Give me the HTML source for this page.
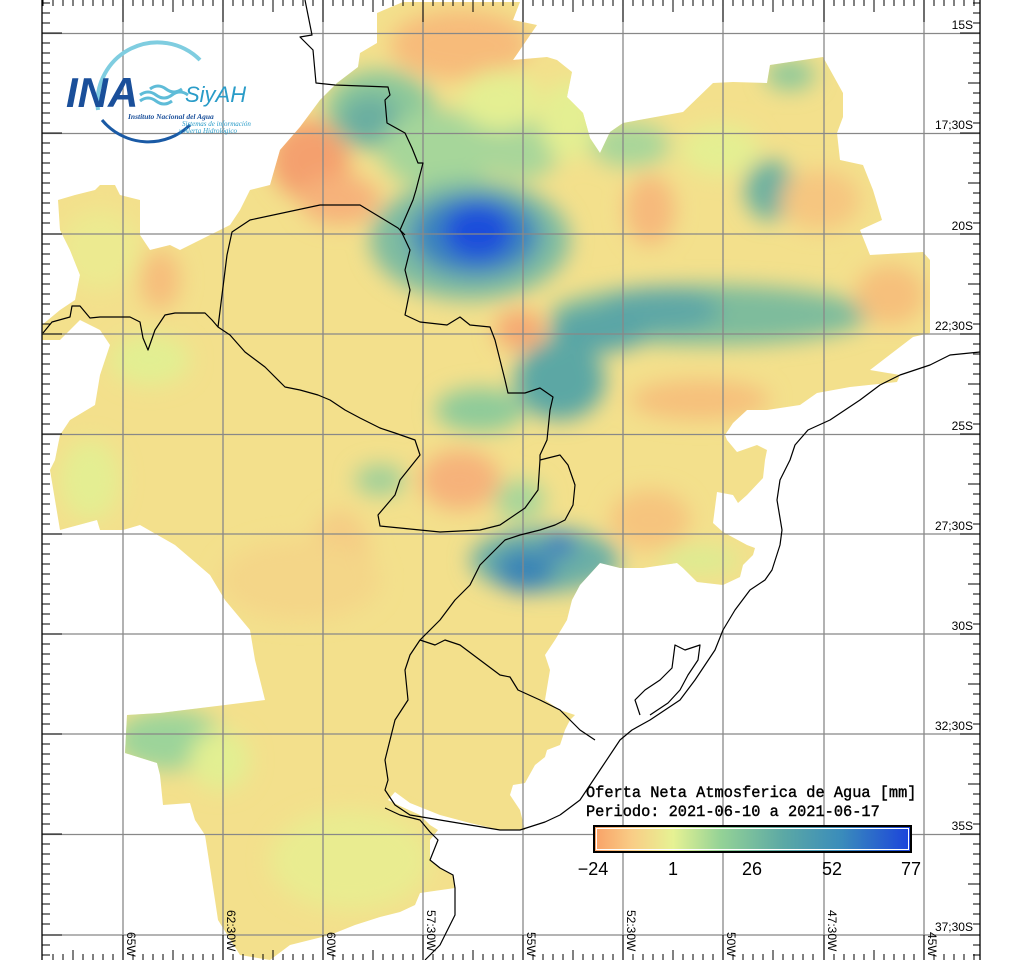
<!DOCTYPE html>
<html><head><meta charset="utf-8"><style>
html,body{margin:0;padding:0;background:#fff;}
svg{display:block;}
</style></head><body>
<svg width="1024" height="960" viewBox="0 0 1024 960" xmlns="http://www.w3.org/2000/svg">
<defs>
<clipPath id="basin"><polygon points="403,2 520,2 513,20 537,25 513,60 547,57 557,60 572,72 567,97 583,113 590,138 600,153 610,132 623,123 683,112 713,83 733,82 767,83 770,65 823,57 843,93 843,117 837,133 840,160 863,165 873,190 882,220 860,230 870,255 923,252 930,260 930,333 913,337 870,370 900,375 897,382 850,387 817,393 800,405 767,410 747,410 733,423 725,435 727,440 737,452 757,445 767,450 765,460 763,478 747,495 738,503 733,495 717,492 713,523 723,532 747,545 755,548 753,555 743,565 740,577 723,585 697,582 683,568 677,563 643,568 620,568 600,563 580,585 572,600 567,620 555,640 545,655 550,670 545,700 560,710 575,715 570,720 565,730 560,745 547,750 545,757 535,765 525,783 513,785 510,795 520,810 525,830 500,830 470,823 440,815 410,803 395,792 388,800 400,806 420,815 430,825 438,830 430,840 430,860 440,868 453,875 455,888 420,893 415,905 400,912 380,917 355,925 330,935 290,945 270,960 240,955 218,920 215,900 205,835 195,820 190,803 163,805 160,775 157,763 125,753 127,715 160,713 225,705 265,700 255,660 250,630 225,600 210,575 175,545 140,525 123,530 100,530 97,520 60,530 55,500 50,470 55,460 60,435 70,420 95,405 100,375 110,345 100,330 80,320 60,340 42,340 42,325 60,310 75,300 80,275 70,250 60,230 58,200 75,195 95,190 100,185 115,185 120,195 140,200 140,235 150,250 170,245 180,250 230,225 240,210 250,190 270,185 280,150 300,127 320,100 337,83 358,67 360,53 377,43 377,13"/></clipPath>
<filter id="bl" x="-20%" y="-20%" width="140%" height="140%"><feGaussianBlur stdDeviation="11"/></filter>
<linearGradient id="cb" x1="0" x2="1" y1="0" y2="0">
<stop offset="0" stop-color="#f9a066"/><stop offset="0.12" stop-color="#f9cd86"/><stop offset="0.25" stop-color="#e6f293"/><stop offset="0.4" stop-color="#94d296"/><stop offset="0.6" stop-color="#5ba8a5"/><stop offset="0.78" stop-color="#3a8cbb"/><stop offset="1" stop-color="#1b42dc"/>
</linearGradient>
</defs>

<g clip-path="url(#basin)">
<rect x="0" y="0" width="1024" height="960" fill="#f3e08c"/>
<g filter="url(#bl)">
<ellipse cx="460" cy="45" rx="70" ry="35" fill="#f7bb7a"/>
<ellipse cx="310" cy="160" rx="40" ry="40" fill="#f4a06e"/>
<ellipse cx="340" cy="200" rx="40" ry="25" fill="#f6b27a"/>
<ellipse cx="380" cy="110" rx="55" ry="40" fill="#8cc89a"/>
<ellipse cx="370" cy="120" rx="30" ry="25" fill="#6aaea0"/>
<ellipse cx="440" cy="150" rx="60" ry="40" fill="#a6d69a"/>
<ellipse cx="520" cy="150" rx="40" ry="30" fill="#a8d69a"/>
<ellipse cx="500" cy="100" rx="40" ry="30" fill="#e4ef92"/>
<ellipse cx="470" cy="240" rx="100" ry="60" fill="#7ebca0"/>
<ellipse cx="475" cy="235" rx="65" ry="42" fill="#3c86bb"/>
<ellipse cx="478" cy="232" rx="35" ry="28" fill="#1d4ddb"/>
<ellipse cx="570" cy="120" rx="30" ry="40" fill="#e4ef92"/>
<ellipse cx="630" cy="145" rx="40" ry="22" fill="#a8d69a"/>
<ellipse cx="720" cy="150" rx="40" ry="25" fill="#e4ef92"/>
<ellipse cx="770" cy="190" rx="25" ry="30" fill="#6bb0a0"/>
<ellipse cx="790" cy="75" rx="25" ry="15" fill="#8cc89a"/>
<ellipse cx="650" cy="210" rx="25" ry="35" fill="#f6b97c"/>
<ellipse cx="820" cy="200" rx="40" ry="30" fill="#f6c680"/>
<ellipse cx="710" cy="315" rx="160" ry="30" fill="#7ebc9c"/>
<ellipse cx="660" cy="310" rx="60" ry="22" fill="#5ea7a6"/>
<ellipse cx="600" cy="330" rx="50" ry="22" fill="#5aa5a6"/>
<ellipse cx="560" cy="380" rx="45" ry="40" fill="#5ca7a4"/>
<ellipse cx="480" cy="410" rx="45" ry="22" fill="#8ecb9a"/>
<ellipse cx="520" cy="330" rx="25" ry="20" fill="#f6a872"/>
<ellipse cx="700" cy="400" rx="70" ry="20" fill="#f6c07c"/>
<ellipse cx="890" cy="295" rx="35" ry="30" fill="#f6c07c"/>
<ellipse cx="460" cy="480" rx="40" ry="30" fill="#f6b27a"/>
<ellipse cx="380" cy="480" rx="25" ry="15" fill="#9ccf9a"/>
<ellipse cx="520" cy="500" rx="25" ry="20" fill="#a6d69a"/>
<ellipse cx="545" cy="560" rx="75" ry="32" fill="#6aafa6"/>
<ellipse cx="525" cy="570" rx="30" ry="22" fill="#3a85b6"/>
<ellipse cx="560" cy="545" rx="15" ry="10" fill="#2f70c2"/>
<ellipse cx="650" cy="520" rx="40" ry="30" fill="#f6c47e"/>
<ellipse cx="700" cy="560" rx="40" ry="14" fill="#dcec92"/>
<ellipse cx="170" cy="740" rx="55" ry="30" fill="#9cd49a"/>
<ellipse cx="220" cy="760" rx="30" ry="30" fill="#e2ef92"/>
<ellipse cx="350" cy="860" rx="80" ry="50" fill="#e9ec90"/>
<ellipse cx="90" cy="480" rx="30" ry="40" fill="#e4ee92"/>
<ellipse cx="100" cy="250" rx="40" ry="40" fill="#ecea90"/>
<ellipse cx="160" cy="280" rx="20" ry="30" fill="#f6bd7c"/>
<ellipse cx="150" cy="360" rx="40" ry="25" fill="#e2ef92"/>
<ellipse cx="340" cy="560" rx="30" ry="50" fill="#f5cc84"/>
<ellipse cx="300" cy="580" rx="80" ry="40" fill="#f4d688"/>
</g>
</g>

<g stroke="#888" stroke-width="1.3" fill="none">
<line x1="123" y1="0" x2="123" y2="960"/><line x1="223" y1="0" x2="223" y2="960"/><line x1="323" y1="0" x2="323" y2="960"/><line x1="423" y1="0" x2="423" y2="960"/><line x1="523" y1="0" x2="523" y2="960"/><line x1="623" y1="0" x2="623" y2="960"/><line x1="723" y1="0" x2="723" y2="960"/><line x1="824" y1="0" x2="824" y2="960"/><line x1="924" y1="0" x2="924" y2="960"/>
<line x1="42" y1="33.5" x2="980" y2="33.5"/><line x1="42" y1="133.5" x2="980" y2="133.5"/><line x1="42" y1="234" x2="980" y2="234"/><line x1="42" y1="334" x2="980" y2="334"/><line x1="42" y1="434.5" x2="980" y2="434.5"/><line x1="42" y1="534" x2="980" y2="534"/><line x1="42" y1="634" x2="980" y2="634"/><line x1="42" y1="734" x2="980" y2="734"/><line x1="42" y1="834.5" x2="980" y2="834.5"/><line x1="42" y1="935" x2="980" y2="935"/>
</g>

<g stroke="#000" stroke-width="1.2" fill="none" stroke-linejoin="round">
<polyline points="305,0 308,15 312,35 300,37 313,50 316,83 335,85 388,87 390,95 385,100 387,123 405,133 412,148 418,163 423,163 416,190 413,200 400,230 402,233 410,250 405,270 410,290 405,315 420,322 447,325 460,317 470,325 490,327 495,340 500,360 505,380 508,393 525,393 540,388 553,397 550,410 547,440 540,455 540,460 538,490 525,508 500,525 480,530 440,532 400,528 380,526 378,515 395,495 400,480 420,455 415,440 395,433 380,428 360,418 345,410 330,400 318,395 300,390 285,387 265,367 245,352 230,335 218,327 212,320 205,313 175,313 165,315 155,330 148,350 143,338 140,322 130,317 100,317 90,318 80,306 72,306 70,317 52,322 43,333"/>
<polyline points="218,327 227,255 232,232 250,220 320,205 360,205 398,228 405,235"/>
<polyline points="540,460 560,455 568,465 575,485 573,505 565,520 555,525 540,530 520,535 505,540 490,555 480,565 470,585 455,600 440,620 420,640 410,655 405,670 408,700 395,720 390,740 385,760 388,780 385,790 395,805 410,815 440,820 470,825 500,830 520,830 545,822 560,815"/>
<polyline points="420,640 435,645 445,640 460,645 480,660 500,675 510,677 518,690 540,700 560,710 570,720 580,730 595,740"/>
<polyline points="385,808 400,815 420,820 430,832 438,840 430,860 440,868 453,875 455,888 455,915 440,945 425,960"/>
<polyline points="560,815 580,800 600,770 620,740 632,730 650,720 665,710 680,700 695,680 705,665 715,650 723,630 735,610 750,590 765,580 772,570 780,545 782,530 777,500 780,480 790,460 795,445 808,430 830,420 860,400 880,385 900,375 930,365 950,355 980,352"/>
<polyline points="640,715 635,700 645,690 660,680 672,668 675,645 685,650 700,645 698,660 688,675 680,690 668,703 650,715"/>
</g>

<g stroke="#000" stroke-width="1.3">
<line x1="42" y1="0" x2="42" y2="960"/>
<line x1="980" y1="0" x2="980" y2="960"/>
</g>
<g stroke="#000" stroke-width="1">
<path d="M42,3h8M42,13h8M42,23h8M42,33h20M42,43h8M42,53h8M42,63h8M42,73h8M42,83h8M42,93h8M42,103h8M42,113h8M42,123h8M42,133h20M42,143h8M42,153h8M42,163h8M42,173h8M42,183h8M42,193h8M42,203h8M42,213h8M42,223h8M42,234h20M42,244h8M42,254h8M42,264h8M42,274h8M42,284h8M42,294h8M42,304h8M42,314h8M42,324h8M42,334h20M42,344h8M42,354h8M42,364h8M42,374h8M42,384h8M42,394h8M42,404h8M42,414h8M42,424h8M42,434h20M42,444h8M42,454h8M42,464h8M42,474h8M42,484h8M42,494h8M42,504h8M42,514h8M42,524h8M42,534h20M42,544h8M42,554h8M42,564h8M42,574h8M42,584h8M42,594h8M42,604h8M42,614h8M42,624h8M42,634h20M42,644h8M42,654h8M42,664h8M42,674h8M42,684h8M42,694h8M42,704h8M42,714h8M42,724h8M42,734h20M42,744h8M42,754h8M42,764h8M42,774h8M42,784h8M42,794h8M42,804h8M42,814h8M42,824h8M42,834h20M42,844h8M42,854h8M42,864h8M42,874h8M42,884h8M42,894h8M42,904h8M42,914h8M42,924h8M42,935h20M42,945h8M42,955h8"/>
<path d="M980,3h-7M980,13h-7M980,23h-7M980,33h-20M980,43h-7M980,53h-7M980,63h-7M980,73h-7M980,83h-12M980,93h-7M980,103h-7M980,113h-7M980,123h-7M980,133h-20M980,143h-7M980,153h-7M980,163h-7M980,173h-7M980,183h-12M980,193h-7M980,203h-7M980,213h-7M980,223h-7M980,234h-20M980,244h-7M980,254h-7M980,264h-7M980,274h-7M980,284h-12M980,294h-7M980,304h-7M980,314h-7M980,324h-7M980,334h-20M980,344h-7M980,354h-7M980,364h-7M980,374h-7M980,384h-12M980,394h-7M980,404h-7M980,414h-7M980,424h-7M980,434h-20M980,444h-7M980,454h-7M980,464h-7M980,474h-7M980,484h-12M980,494h-7M980,504h-7M980,514h-7M980,524h-7M980,534h-20M980,544h-7M980,554h-7M980,564h-7M980,574h-7M980,584h-12M980,594h-7M980,604h-7M980,614h-7M980,624h-7M980,634h-20M980,644h-7M980,654h-7M980,664h-7M980,674h-7M980,684h-12M980,694h-7M980,704h-7M980,714h-7M980,724h-7M980,734h-20M980,744h-7M980,754h-7M980,764h-7M980,774h-7M980,784h-12M980,794h-7M980,804h-7M980,814h-7M980,824h-7M980,834h-20M980,844h-7M980,854h-7M980,864h-7M980,874h-7M980,884h-12M980,894h-7M980,904h-7M980,914h-7M980,924h-7M980,935h-20M980,945h-7M980,955h-7"/>
<path d="M43,0v6M53,0v6M63,0v6M73,0v6M83,0v6M93,0v6M103,0v6M113,0v6M123,0v22M133,0v6M143,0v6M153,0v6M163,0v6M173,0v12M183,0v6M193,0v6M203,0v6M213,0v6M223,0v22M233,0v6M243,0v6M253,0v6M263,0v6M273,0v12M283,0v6M293,0v6M303,0v6M313,0v6M323,0v22M333,0v6M343,0v6M353,0v6M363,0v6M373,0v12M383,0v6M393,0v6M403,0v6M413,0v6M423,0v22M433,0v6M443,0v6M453,0v6M463,0v6M473,0v12M483,0v6M493,0v6M503,0v6M513,0v6M523,0v22M533,0v6M543,0v6M553,0v6M563,0v6M573,0v12M583,0v6M593,0v6M603,0v6M613,0v6M623,0v22M633,0v6M643,0v6M653,0v6M663,0v6M673,0v12M683,0v6M693,0v6M703,0v6M713,0v6M723,0v22M733,0v6M743,0v6M753,0v6M763,0v6M773,0v12M783,0v6M793,0v6M803,0v6M813,0v6M824,0v22M834,0v6M844,0v6M854,0v6M864,0v6M874,0v12M884,0v6M894,0v6M904,0v6M914,0v6M924,0v22M934,0v6M944,0v6M954,0v6M964,0v6M974,0v6"/>
<path d="M53,960v-6M63,960v-6M73,960v-10M83,960v-6M93,960v-6M103,960v-6M113,960v-6M123,960v-25M133,960v-6M143,960v-6M153,960v-6M163,960v-6M173,960v-10M183,960v-6M193,960v-6M203,960v-6M213,960v-6M223,960v-25M233,960v-6M243,960v-6M253,960v-6M263,960v-6M273,960v-10M283,960v-6M293,960v-6M303,960v-6M313,960v-6M323,960v-25M333,960v-6M343,960v-6M353,960v-6M363,960v-6M373,960v-10M383,960v-6M393,960v-6M403,960v-6M413,960v-6M423,960v-25M433,960v-6M443,960v-6M453,960v-6M463,960v-6M473,960v-10M483,960v-6M493,960v-6M503,960v-6M513,960v-6M523,960v-25M533,960v-6M543,960v-6M553,960v-6M563,960v-6M573,960v-10M583,960v-6M593,960v-6M603,960v-6M613,960v-6M623,960v-25M633,960v-6M643,960v-6M653,960v-6M663,960v-6M673,960v-10M683,960v-6M693,960v-6M703,960v-6M713,960v-6M723,960v-25M733,960v-6M743,960v-6M753,960v-6M763,960v-6M773,960v-10M783,960v-6M793,960v-6M803,960v-6M813,960v-6M824,960v-25M834,960v-6M844,960v-6M854,960v-6M864,960v-6M874,960v-10M884,960v-6M894,960v-6M904,960v-6M914,960v-6M924,960v-25M934,960v-6M944,960v-6M954,960v-6M964,960v-6M974,960v-6"/>
</g>

<g font-family="Liberation Sans, sans-serif" font-size="12" fill="#000" text-anchor="end">
<text x="973" y="29">15S</text><text x="973" y="129">17;30S</text><text x="973" y="230">20S</text><text x="973" y="330">22;30S</text><text x="973" y="430">25S</text><text x="973" y="530">27;30S</text><text x="973" y="630">30S</text><text x="973" y="730">32;30S</text><text x="973" y="830">35S</text><text x="973" y="931">37;30S</text>
</g>
<g font-family="Liberation Sans, sans-serif" font-size="12" fill="#000">
<text transform="translate(127,932) rotate(90)">65W</text>
<text transform="translate(227,910) rotate(90)">62:30W</text>
<text transform="translate(327,932) rotate(90)">60W</text>
<text transform="translate(427,910) rotate(90)">57:30W</text>
<text transform="translate(527,932) rotate(90)">55W</text>
<text transform="translate(627,910) rotate(90)">52:30W</text>
<text transform="translate(727,932) rotate(90)">50W</text>
<text transform="translate(828,910) rotate(90)">47:30W</text>
<text transform="translate(928,932) rotate(90)">45W</text>
</g>

<path d="M98,110 A60,60 0 0 1 200,60" stroke="#7fcde0" stroke-width="4" fill="none"/>
<path d="M102,120 A60,60 0 0 0 190,125" stroke="#1a5aa5" stroke-width="3" fill="none"/>
<text x="66" y="107" font-family="Liberation Sans, sans-serif" font-style="italic" font-weight="bold" font-size="42" fill="#1a4f9a">INA</text>
<path d="M140,95 q8,-6 16,0 t16,0 t16,0 M140,101 q8,-6 16,0 t16,0 M150,89 q8,-6 16,0 t16,0" stroke="#5fbcd8" stroke-width="3" fill="none"/>
<text x="185" y="102" font-family="Liberation Sans, sans-serif" font-style="italic" font-size="22" fill="#2a9cc8">SiyAH</text>
<text x="128" y="119" font-family="Liberation Serif, serif" font-style="italic" font-weight="bold" font-size="7.5" fill="#1a4f9a">Instituto Nacional del Agua</text>
<text x="182" y="126" font-family="Liberation Serif, serif" font-style="italic" font-size="7" fill="#2a9cc8">Sistemas de información</text>
<text x="179" y="133" font-family="Liberation Serif, serif" font-style="italic" font-size="7" fill="#2a9cc8">y Alerta Hidrológico</text>

<g font-family="Liberation Mono, monospace" font-size="15.3" fill="#000" stroke="#000" stroke-width="0.4">
<text x="586" y="797">Oferta Neta Atmosferica de Agua [mm]</text>
<text x="586" y="816">Periodo: 2021-06-10 a 2021-06-17</text>
</g>
<rect x="594" y="826" width="317" height="26" fill="url(#cb)" stroke="#000" stroke-width="2"/>
<rect x="596.5" y="828.5" width="312" height="21" fill="none" stroke="#fff" stroke-width="1"/>
<g font-family="Liberation Sans, sans-serif" font-size="18" fill="#000" text-anchor="middle">
<text x="593" y="875">−24</text><text x="673" y="875">1</text><text x="752" y="875">26</text><text x="832" y="875">52</text><text x="911" y="875">77</text>
</g>
</svg>
</body></html>
